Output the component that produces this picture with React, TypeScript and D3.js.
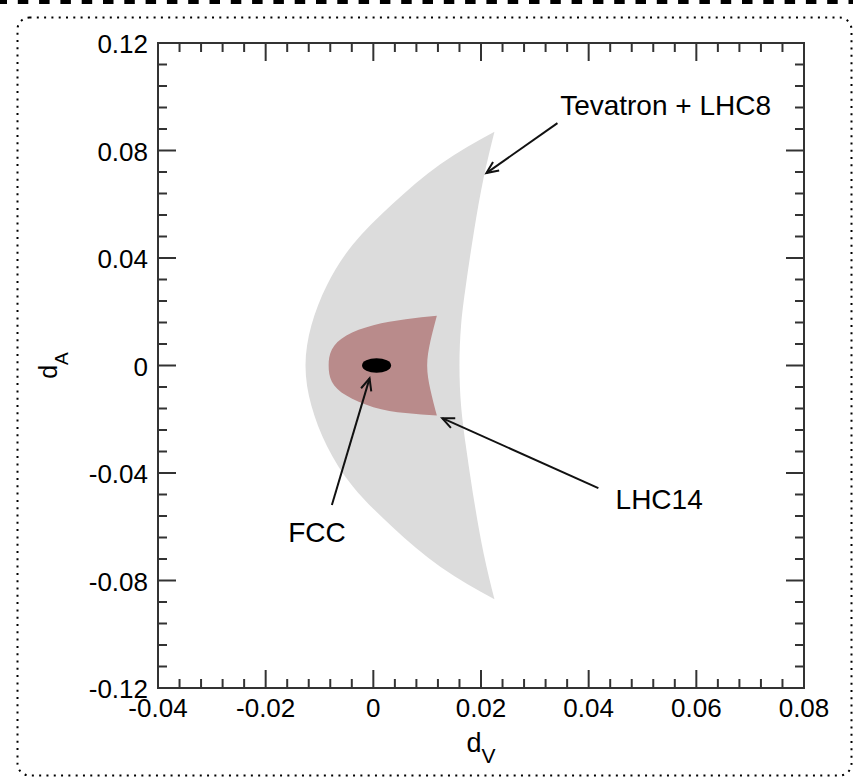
import React from "react";
import * as d3 from "d3";

const W = 853;
const H = 780;
const margin = { top: 43, right: 49, bottom: 92, left: 158 };

// axis ticks
const xTicks = [-0.04, -0.02, 0, 0.02, 0.04, 0.06, 0.08];
const xTickLabels = ["-0.04", "-0.02", "0", "0.02", "0.04", "0.06", "0.08"];
const yTicks = [-0.12, -0.08, -0.04, 0, 0.04, 0.08, 0.12];
const yTickLabels = ["-0.12", "-0.08", "-0.04", "0", "0.04", "0.08", "0.12"];

// Tevatron + LHC8 region: left edge (top -> bottom), right edge (bottom -> top)
const tevOuter: [number, number][] = [
  [0.0225, 0.087], [0.0125, 0.075], [0.0035, 0.06], [-0.0038, 0.045],
  [-0.0086, 0.03], [-0.0115, 0.015], [-0.0126, 0], [-0.0115, -0.015],
  [-0.0086, -0.03], [-0.0038, -0.045], [0.0035, -0.06], [0.0125, -0.075],
  [0.0225, -0.087],
];
const tevInner: [number, number][] = [
  [0.0225, -0.087], [0.0205, -0.07], [0.0187, -0.05], [0.0172, -0.03],
  [0.0163, -0.015], [0.016, 0], [0.0163, 0.015], [0.0172, 0.03],
  [0.0187, 0.05], [0.0205, 0.07], [0.0225, 0.087],
];

// LHC14 region
const lhcOuter: [number, number][] = [
  [0.0118, 0.0185], [0.006, 0.0172], [0, 0.015], [-0.005, 0.0112],
  [-0.0077, 0.006], [-0.0083, 0], [-0.0077, -0.006], [-0.005, -0.0112],
  [0, -0.0155], [0.006, -0.0177], [0.0118, -0.0186],
];
const lhcInner: [number, number][] = [
  [0.0118, -0.0186], [0.0106, -0.009], [0.01, 0], [0.0106, 0.009], [0.0118, 0.0185],
];

// FCC ellipse: centre and half-widths
const fcc = { dV: 0.0006, dA: 0, rV: 0.0027, rA: 0.0027 };

// annotations: label, text position, arrow tail, arrow head
const notes = [
  { text: "Tevatron + LHC8", tx: 0.0347, ty: 0.0932, from: [0.0342, 0.0902], to: [0.021, 0.0716] },
  { text: "LHC14", tx: 0.045, ty: -0.0534, from: [0.0418, -0.0456], to: [0.0128, -0.0196] },
  { text: "FCC", tx: -0.0158, ty: -0.0655, from: [-0.0077, -0.0519], to: [-0.0007, -0.0048] },
];

const font = "'Liberation Sans', Arial, Helvetica, sans-serif";

export default function App() {
  const x = d3.scaleLinear().domain([-0.04, 0.08]).range([margin.left, W - margin.right]);
  const y = d3.scaleLinear().domain([-0.12, 0.12]).range([H - margin.bottom, margin.top]);
  const line = d3
    .line<[number, number]>()
    .x((d) => x(d[0]))
    .y((d) => y(d[1]))
    .curve(d3.curveNatural);

  const region = (outer: [number, number][], inner: [number, number][]) =>
    (line(outer) || "") + (line(inner) || "").replace(/^M/, "L") + "Z";

  const x0 = margin.left, x1 = W - margin.right;
  const y0 = margin.top, y1 = H - margin.bottom;
  const xMinor = d3.range(-0.04, 0.0801, 0.004);
  const yMinor = d3.range(-0.12, 0.1201, 0.008);
  const axisColor = "#333";

  const arrowHead = (fx: number, fy: number, tx: number, ty: number) => {
    const ang = Math.atan2(fy - ty, fx - tx);
    const len = 13, spread = 0.42;
    const p1 = [tx + len * Math.cos(ang + spread), ty + len * Math.sin(ang + spread)];
    const p2 = [tx + len * Math.cos(ang - spread), ty + len * Math.sin(ang - spread)];
    return `M${p1[0]},${p1[1]}L${tx},${ty}L${p2[0]},${p2[1]}`;
  };

  return (
    <svg width={W} height={H} style={{ position: "absolute", left: 0, top: 0 }}>
      <rect width={W} height={H} fill="#fff" />
      {/* page borders */}
      <line x1={0} x2={W} y1={2} y2={2} stroke="#000" strokeWidth={4} strokeDasharray="10.5 10.8" strokeDashoffset={3.5} />
      <rect x={17.5} y={17.5} width={834} height={758} rx={12} fill="none" stroke="#000" strokeWidth={2} strokeDasharray="2 5.3" />

      {/* regions */}
      <path d={region(tevOuter, tevInner)} fill="#dcdcdc" />
      <path d={region(lhcOuter, lhcInner)} fill="#b98b8b" />
      <ellipse
        cx={x(fcc.dV)}
        cy={y(fcc.dA)}
        rx={x(fcc.dV + fcc.rV) - x(fcc.dV)}
        ry={y(fcc.dA) - y(fcc.dA + fcc.rA)}
        fill="#000"
      />

      {/* annotations */}
      {notes.map((n) => {
        const fx = x(n.from[0]), fy = y(n.from[1]);
        const tx = x(n.to[0]), ty = y(n.to[1]);
        return (
          <g key={n.text}>
            <line x1={fx} y1={fy} x2={tx} y2={ty} stroke="#111" strokeWidth={2} />
            <path d={arrowHead(fx, fy, tx, ty)} fill="none" stroke="#111" strokeWidth={2} />
            <text x={x(n.tx)} y={y(n.ty)} fontFamily={font} fontSize={28} fill="#000">
              {n.text}
            </text>
          </g>
        );
      })}

      {/* frame and ticks */}
      <g stroke={axisColor} strokeWidth={2}>
        {xMinor.map((v, i) => {
          const len = i % 5 === 0 ? 18 : 9;
          return (
            <g key={"xm" + i}>
              <line x1={x(v)} x2={x(v)} y1={y1} y2={y1 - len} />
              <line x1={x(v)} x2={x(v)} y1={y0} y2={y0 + len} />
            </g>
          );
        })}
        {yMinor.map((v, i) => {
          const len = i % 5 === 0 ? 18 : 9;
          return (
            <g key={"ym" + i}>
              <line x1={x0} x2={x0 + len} y1={y(v)} y2={y(v)} />
              <line x1={x1} x2={x1 - len} y1={y(v)} y2={y(v)} />
            </g>
          );
        })}
        <rect x={x0} y={y0} width={x1 - x0} height={y1 - y0} fill="none" />
      </g>

      {/* tick labels */}
      <g fontFamily={font} fontSize={26} fill="#000">
        {xTicks.map((v, i) => (
          <text key={"xt" + i} x={x(v)} y={y1 + 29} textAnchor="middle">
            {xTickLabels[i]}
          </text>
        ))}
        {yTicks.map((v, i) => (
          <text key={"yt" + i} x={x0 - 10} y={y(v) + 10} textAnchor="end">
            {yTickLabels[i]}
          </text>
        ))}
      </g>

      {/* axis titles */}
      <text x={(x0 + x1) / 2} y={752} textAnchor="middle" fontFamily={font} fontSize={27}>
        d<tspan fontSize={21} dy={11}>V</tspan>
      </text>
      <text
        transform={`translate(57 ${(y0 + y1) / 2}) rotate(-90)`}
        textAnchor="middle"
        fontFamily={font}
        fontSize={25}
      >
        d<tspan fontSize={19} dy={11}>A</tspan>
      </text>
    </svg>
  );
}
